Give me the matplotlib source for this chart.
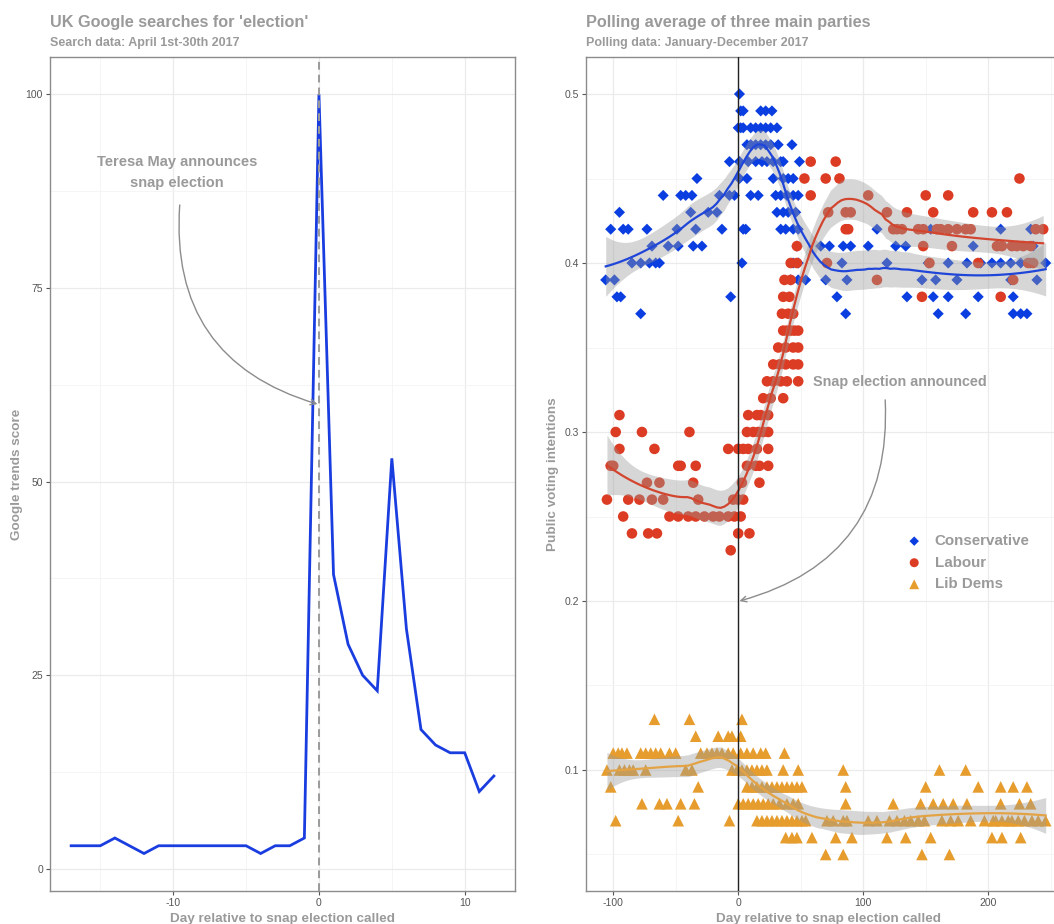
import numpy as np
import matplotlib
matplotlib.use("Agg")
import matplotlib.pyplot as plt
from matplotlib.ticker import MultipleLocator

plt.rcParams['font.family'] = ['Liberation Sans', 'DejaVu Sans']
plt.rcParams['axes.unicode_minus'] = False

# ---------------- data: Google trends ----------------
trend_days = [-17, -16, -15, -14, -13, -12, -11, -10, -9, -8, -7, -6, -5, -4, -3, -2, -1,
              0, 1, 2, 3, 4, 5, 6, 7, 8, 9, 10, 11, 12]
trend_score = [3, 3, 3, 4, 3, 2, 3, 3, 3, 3, 3, 3, 3, 2, 3, 3, 4,
               100, 38, 29, 25, 23, 53, 31, 18, 16, 15, 15, 10, 12]

# ---------------- data: polls (vote share -> days relative) ----------------
con_polls = [
    (0.50, [1]),
    (0.49, [2, 4, 18, 22, 27]),
    (0.48, [0, 2, 4, 10, 14, 18, 22, 26, 31]),
    (0.47, [7, 10, 14, 18, 22, 26, 32, 43]),
    (0.46, [-7, 1, 8, 14, 19, 23, 28, 34, 36, 49]),
    (0.45, [-33, 1, 7, 28, 36, 40, 44]),
    (0.44, [-60, -46, -42, -37, -15, -7, -3, 10, 16, 30, 34, 39, 44, 48]),
    (0.43, [-95, -38, -24, -17, 31, 36, 40, 46]),
    (0.42, [-102, -92, -88, -73, -49, -34, -13, 4, 6, 34, 38, 44, 48, 111, 154, 210, 234]),
    (0.41, [-69, -56, -48, -36, -29, 47, 66, 73, 84, 90, 104, 126, 134, 188, 236]),
    (0.40, [-85, -78, -71, -66, -63, 3, 44, 48, 83, 119, 152, 168, 183, 194, 203, 210,
            218, 226, 234, 246]),
    (0.39, [-106, -99, 42, 48, 54, 70, 87, 147, 158, 175, 218, 239]),
    (0.38, [-97, -94, -6, 79, 135, 156, 168, 192, 220]),
    (0.37, [-78, 86, 160, 182, 220, 226, 231]),
]
lab_polls = [
    (0.46, [58, 78]),
    (0.45, [53, 70, 81, 225]),
    (0.44, [58, 104, 150, 168]),
    (0.43, [72, 86, 90, 119, 135, 156, 188, 203, 215]),
    (0.42, [86, 88, 124, 127, 131, 144, 148, 159, 162, 168, 175, 182, 186, 238, 244]),
    (0.41, [47, 148, 171, 207, 211, 219, 223, 228, 234]),
    (0.40, [42, 47, 71, 153, 192, 232, 236]),
    (0.39, [37, 42, 111, 220]),
    (0.38, [36, 41, 147, 210]),
    (0.37, [35, 40, 44]),
    (0.36, [36, 39, 42, 45, 48]),
    (0.35, [32, 38, 44, 48]),
    (0.34, [28, 33, 38, 44, 48]),
    (0.33, [23, 28, 34, 39, 48]),
    (0.32, [20, 26, 36]),
    (0.31, [-95, 8, 15, 18, 24]),
    (0.30, [-98, -77, -39, 7, 12, 16, 20, 24]),
    (0.29, [-95, -67, -8, 0, 4, 8, 15, 24]),
    (0.28, [-102, -100, -48, -46, -34, 7, 14, 17, 24]),
    (0.27, [-73, -63, -36, 3, 17]),
    (0.26, [-105, -88, -79, -69, -60, -32, -4, 0, 4]),
    (0.25, [-92, -55, -48, -40, -34, -27, -20, -15, -8, -3, 2]),
    (0.24, [-85, -72, -65, 0, 9]),
    (0.23, [-6]),
]
ld_polls = [
    (0.13, [-67, -39, 3]),
    (0.12, [-34, -16, -8, -5, 2]),
    (0.11, [-100, -96, -93, -89, -78, -74, -70, -66, -62, -55, -50, -30, -25, -21, -17,
            -13, -8, -4, 2, 7, 12, 18, 22, 37]),
    (0.10, [-105, -95, -91, -87, -84, -74, -42, -37, -5, -1, 3, 7, 11, 15, 19, 23, 36, 48,
            84, 161, 182]),
    (0.09, [-102, -32, 7, 11, 15, 19, 23, 27, 31, 35, 39, 43, 47, 51, 86, 150, 192, 210,
            220, 231]),
    (0.08, [-77, -63, -57, -46, -35, 0, 4, 8, 12, 16, 20, 24, 28, 33, 39, 44, 48, 86, 124,
            146, 156, 164, 172, 183, 210, 225, 234]),
    (0.07, [-98, -48, -7, 15, 19, 23, 27, 31, 35, 39, 43, 47, 51, 54, 71, 76, 84, 87, 104,
            111, 121, 127, 133, 138, 144, 149, 163, 170, 176, 186, 197, 204, 206, 211, 216,
            219, 224, 229, 235, 240, 246]),
    (0.06, [38, 43, 47, 59, 78, 91, 119, 134, 154, 203, 211, 226]),
    (0.05, [70, 84, 147, 169]),
]

party_names = ["Conservative", "Labour", "Lib Dems"]


def flatten(polls):
    xs, ys = [], []
    for v, days in polls:
        xs.extend(days)
        ys.extend([v] * len(days))
    return np.array(xs, float), np.array(ys, float)


def loess(x, y, xg, span=0.45, deg=2):
    n = len(x)
    q = max(int(np.floor(n * span)), deg + 2)

    def row(x0):
        d = np.abs(x - x0)
        h = max(np.sort(d)[q - 1], 1e-9)
        u = np.clip(d / h, 0, 1)
        w = (1 - u ** 3) ** 3
        X = np.vander(x - x0, deg + 1, increasing=True)
        XtW = X.T * w
        A = XtW @ X
        return np.linalg.solve(A, XtW)[0]

    L = np.array([row(xi) for xi in x])
    res = y - L @ y
    IL = np.eye(n) - L
    M = IL.T @ IL
    d1 = np.trace(M)
    s = np.sqrt(np.sum(res ** 2) / d1)
    Lg = np.array([row(x0) for x0 in xg])
    fit = Lg @ y
    se = s * np.sqrt(np.sum(Lg ** 2, axis=1))
    return fit, fit - 1.97 * se, fit + 1.97 * se


W, H = 1054, 924
fig = plt.figure(figsize=(W / 100, H / 100), dpi=100)

grey_txt = '#9a9a9a'
tick_col = '#555555'
spine_col = '#8c8c8c'


def style(ax):
    for sp in ax.spines.values():
        sp.set_color(spine_col)
        sp.set_linewidth(1.0)
    ax.grid(which='major', color='#ebebeb', lw=0.9, zorder=0)
    ax.grid(which='minor', color='#f4f4f4', lw=0.6, zorder=0)
    ax.set_axisbelow(True)
    ax.tick_params(which='major', length=3, width=0.8, color=tick_col,
                   labelsize=7.5, labelcolor=tick_col, pad=2)
    ax.tick_params(which='minor', length=0)


# ---------------- left panel ----------------
axL = fig.add_axes([50 / W, 33 / H, 465 / W, 834 / H])
style(axL)
axL.plot(trend_days, trend_score, color='#1a3de0', lw=2.0, zorder=2,
         solid_joinstyle='miter')
axL.axvline(0, color='#9a9a9a', lw=1.4, ls=(0, (4, 2.6)), zorder=3)
axL.set_xlim(-18.45, 13.45)
axL.set_ylim(-2.84, 104.8)
axL.xaxis.set_major_locator(MultipleLocator(10))
axL.xaxis.set_minor_locator(MultipleLocator(5))
axL.yaxis.set_major_locator(MultipleLocator(25))
axL.yaxis.set_minor_locator(MultipleLocator(12.5))
axL.set_xlabel("Day relative to snap election called", fontsize=9.7, fontweight='bold',
               color=grey_txt)
axL.set_ylabel("Google trends score", fontsize=9.7, fontweight='bold', color=grey_txt)
axL.xaxis.label.set_va('baseline')
axL.xaxis.set_label_coords(0.5, -0.0368)
axL.yaxis.label.set_va('center')
axL.yaxis.set_label_coords(-0.072, 0.5)

axL.text(-9.75, 89.9, "Teresa May announces\nsnap election", ha='center', va='center',
         fontsize=10.5, fontweight='bold', color=grey_txt, linespacing=1.65)
axL.annotate('', xy=(-0.1, 60), xytext=(-9.55, 85.7),
             arrowprops=dict(arrowstyle='->', color='#8c8c8c', lw=1.0,
                             connectionstyle='arc3,rad=0.4', shrinkA=0, shrinkB=0))

fig.text(50 / W, 1 - 26.7 / H, "UK Google searches for 'election'", fontsize=11.7,
         fontweight='bold', color=grey_txt, va='baseline', ha='left')
fig.text(50 / W, 1 - 45.7 / H, "Search data: April 1st-30th 2017", fontsize=9,
         fontweight='bold', color=grey_txt, va='baseline', ha='left')

# ---------------- right panel ----------------
axR = fig.add_axes([585.7 / W, 33 / H, 485 / W, 834 / H])
style(axR)
axR.set_xlim(-122, 266)
axR.set_ylim(0.0284, 0.5219)
axR.xaxis.set_major_locator(MultipleLocator(100))
axR.xaxis.set_minor_locator(MultipleLocator(50))
axR.yaxis.set_major_locator(MultipleLocator(0.1))
axR.yaxis.set_minor_locator(MultipleLocator(0.05))
axR.yaxis.set_major_formatter(matplotlib.ticker.FuncFormatter(lambda v, p: f"{v:.1f}"))

point_cols = ['#0a3ee0', '#dc3c23', '#e69d2e']
line_cols = ['#1f46d8', '#d2452f', '#e3a345']
markers = ['D', 'o', '^']
sizes = [32, 58, 70]
handles = []
for name, polls, pc, lc, mk, sz in zip(party_names, [con_polls, lab_polls, ld_polls],
                                         point_cols, line_cols, markers, sizes):
    x, y = flatten(polls)
    h = axR.scatter(x, y, s=sz, marker=mk, color=pc, edgecolors='none', zorder=2,
                    label=name)
    handles.append(h)
    xg = np.linspace(x.min(), x.max(), 120)
    fit, lo, hi = loess(x, y, xg, span=0.45)
    axR.fill_between(xg, lo, hi, color='#999999', alpha=0.4, lw=0, zorder=3)
    axR.plot(xg, fit, color=lc, lw=1.6, zorder=4)

axR.axvline(0, color='#222222', lw=1.0, zorder=5)

axR.set_xlabel("Day relative to snap election called", fontsize=9.7, fontweight='bold',
               color=grey_txt)
axR.set_ylabel("Public voting intentions", fontsize=9.7, fontweight='bold', color=grey_txt)
axR.xaxis.label.set_va('baseline')
axR.xaxis.set_label_coords(0.5, -0.0368)
axR.yaxis.label.set_va('center')
axR.yaxis.set_label_coords(-0.067, 0.5)

axR.text(129.6, 0.3296, "Snap election announced", ha='center', va='center',
         fontsize=10.4, fontweight='bold', color=grey_txt)
axR.annotate('', xy=(1, 0.2), xytext=(117.6, 0.319),
             arrowprops=dict(arrowstyle='->', color='#8c8c8c', lw=1.0,
                             connectionstyle='arc3,rad=-0.4', shrinkA=0, shrinkB=0))

leg = axR.legend(handles=handles, loc='upper left', bbox_to_anchor=(0.643, 0.437),
                 frameon=False, fontsize=10.9, handletextpad=0.75, labelspacing=0.5,
                 borderpad=0, handlelength=1.2, markerscale=0.85)
for t in leg.get_texts():
    t.set_color(grey_txt)
    t.set_fontweight('bold')

fig.text(585.7 / W, 1 - 26.7 / H, "Polling average of three main parties", fontsize=11.7,
         fontweight='bold', color=grey_txt, va='baseline', ha='left')
fig.text(585.7 / W, 1 - 45.7 / H, "Polling data: January-December 2017", fontsize=9,
         fontweight='bold', color=grey_txt, va='baseline', ha='left')

fig.savefig("out.png", dpi=100)
